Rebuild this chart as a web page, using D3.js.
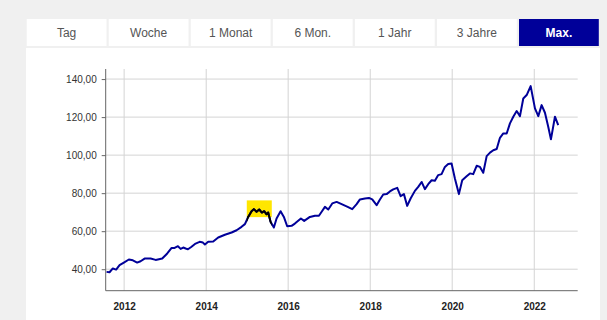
<!DOCTYPE html>
<html><head><meta charset="utf-8">
<script src="https://cdn.jsdelivr.net/npm/d3@7"></script>
<style>
html,body{margin:0;padding:0;background:#f0f0f0;}
svg{display:block;}
</style></head>
<body>
<svg id="c" width="607" height="320"></svg>
<script>
// ---- data ----
const tabs = ["Tag","Woche","1 Monat","6 Mon.","1 Jahr","3 Jahre","Max."];
const activeTab = "Max.";
const years = [
2011.571,2011.644,2011.724,2011.805,2011.888,2011.993,2012.115,2012.212,2012.317,2012.400,
2012.498,2012.644,2012.766,2012.927,2013.049,2013.156,2013.229,2013.310,2013.376,2013.439,
2013.498,2013.554,2013.634,2013.741,2013.839,2013.920,2013.968,2014.049,2014.171,2014.293,
2014.456,2014.620,2014.741,2014.863,2014.944,2015.024,2015.107,2015.163,2015.229,2015.293,
2015.359,2015.415,2015.473,2015.512,2015.571,2015.651,2015.717,2015.815,2015.895,2015.976,
2016.083,2016.163,2016.310,2016.390,2016.529,2016.651,2016.749,2016.815,2016.895,2016.976,
2017.073,2017.180,2017.302,2017.449,2017.561,2017.668,2017.749,2017.871,2017.968,2018.049,
2018.156,2018.237,2018.317,2018.400,2018.480,2018.561,2018.659,2018.741,2018.822,2018.902,
2018.985,2019.090,2019.171,2019.254,2019.334,2019.415,2019.498,2019.578,2019.659,2019.741,
2019.822,2019.902,2019.985,2020.066,2020.163,2020.244,2020.351,2020.432,2020.512,2020.595,
2020.676,2020.756,2020.839,2020.920,2021.000,2021.083,2021.163,2021.244,2021.327,2021.407,
2021.488,2021.571,2021.651,2021.732,2021.815,2021.912,2022.017,2022.098,2022.180,2022.261,
2022.341,2022.407,2022.505,2022.585];
const values = [
38.6,38.4,40.4,39.8,42.1,43.5,45.1,44.7,43.5,44.2,
45.6,45.6,44.9,45.6,48.3,51.2,51.2,52.1,50.7,51.4,
50.9,50.5,51.7,53.5,54.4,54.0,53.0,54.4,54.6,56.7,
58.1,59.3,60.5,62.3,63.7,67.5,70.5,71.6,70.2,71.4,
69.8,70.5,68.9,69.8,64.9,61.9,66.7,70.5,67.5,62.6,
62.8,64.0,66.7,65.4,67.5,68.1,68.1,70.2,72.8,71.4,
74.6,75.4,74.2,72.8,71.6,74.2,76.7,77.2,77.5,76.7,
73.7,76.7,79.3,79.5,80.9,82.0,82.8,78.4,79.5,73.3,
77.2,81.2,83.3,85.9,82.1,84.7,86.8,86.5,89.5,90.0,
93.8,95.3,95.6,87.7,79.5,86.8,88.9,90.4,90.0,94.4,
93.8,90.7,99.5,101.3,102.6,103.2,109.1,111.4,111.4,116.7,
120.2,123.2,120.5,129.8,131.6,136.3,124.6,120.5,126.3,122.3,
114.9,108.3,120.2,115.8];
const yTicks = [40,60,80,100,120,140];
const xTickYears = [2012,2014,2016,2018,2020,2022];
const highlightYears = [2014.99, 2015.60];
const highlightValues = [67.4, 76.2];
const xDomainYears = [2011.55, 2023.06];
const yDomain = [28.7, 145.3];

(function(){
function yearToDate(yv){
  const Y = Math.floor(yv), f = yv - Y;
  const a = new Date(Y,0,1).getTime(), b = new Date(Y+1,0,1).getTime();
  return new Date(a + f*(b-a));
}
const data = years.map((yv,i)=>({date:yearToDate(yv), value:values[i]}));
const locale = d3.formatLocale({decimal:",", thousands:".", grouping:[3], currency:["","€"]});
const fmt = locale.format(",.2f");

const svg = d3.select("#c");
const font = "'Liberation Sans', Arial, sans-serif";

// tabs
const tabX0 = 26.7, tabPitch = 82.05, tabW = 79.8, tabY = 19, tabH = 27;
const tg = svg.append("g");
tabs.forEach((t,i)=>{
  const act = t===activeTab;
  tg.append("rect").attr("x",tabX0+i*tabPitch).attr("y",tabY).attr("width",tabW).attr("height",tabH)
    .attr("fill",act?"#000099":"#ffffff");
  tg.append("text").attr("x",tabX0+i*tabPitch+tabW/2).attr("y",tabY+tabH/2+4.3)
    .attr("text-anchor","middle").attr("font-family",font).attr("font-size",12)
    .attr("font-weight",act?"bold":"normal")
    .attr("fill",act?"#ffffff":"#555555").text(t);
});

// panel
svg.append("rect").attr("x",26).attr("y",48).attr("width",574).attr("height",272).attr("fill","#ffffff");

// scales
const pl=105.7, pr=577.7, pt=69, pb=290.7;
const x = d3.scaleTime().domain(xDomainYears.map(yearToDate)).range([pl,pr]);
const y = d3.scaleLinear().domain(yDomain).range([pb,pt]);

// grid
const g = svg.append("g");
g.selectAll(".hg").data(yTicks).join("line")
  .attr("x1",pl).attr("x2",pr).attr("y1",d=>y(d)).attr("y2",d=>y(d))
  .attr("stroke","#d4d4d4").attr("stroke-width",1);
g.selectAll(".vg").data(xTickYears).join("line")
  .attr("x1",d=>x(new Date(d,0,1))).attr("x2",d=>x(new Date(d,0,1))).attr("y1",pt).attr("y2",pb)
  .attr("stroke","#d4d4d4").attr("stroke-width",1);

// axes
const yAxis = d3.axisLeft(y).tickValues(yTicks).tickFormat(fmt).tickSize(4).tickPadding(5);
const ya = svg.append("g").attr("transform",`translate(${pl},0)`).call(yAxis);
ya.select(".domain").attr("stroke","#666").attr("d",`M0,${pt}V${pb}`);
ya.selectAll(".tick line").attr("stroke","#666");
ya.selectAll("text").attr("font-family",font).attr("font-size",10).attr("fill","#333");

const xAxis = d3.axisBottom(x).tickValues(xTickYears.map(v=>new Date(v,0,1)))
  .tickFormat(d3.timeFormat("%Y")).tickSize(0).tickPadding(12);
const xa = svg.append("g").attr("transform",`translate(0,${pb})`).call(xAxis);
xa.select(".domain").attr("stroke","#666").attr("d",`M${pl},0H${pr}`);
xa.selectAll("text").attr("font-family",font).attr("font-size",10).attr("font-weight","bold").attr("fill","#222");

// highlight
const hx0 = x(yearToDate(highlightYears[0])), hx1 = x(yearToDate(highlightYears[1]));
const hy0 = y(highlightValues[1]), hy1 = y(highlightValues[0]);
svg.append("rect").attr("x",hx0).attr("y",hy0).attr("width",hx1-hx0).attr("height",hy1-hy0).attr("fill","#ffe600");
svg.append("clipPath").attr("id","hc").append("rect")
  .attr("x",hx0).attr("y",hy0-20).attr("width",hx1-hx0).attr("height",hy1-hy0+40);

// line
const line = d3.line().x(d=>x(d.date)).y(d=>y(d.value));
svg.append("path").datum(data).attr("d",line).attr("fill","none")
  .attr("stroke","#000099").attr("stroke-width",2).attr("stroke-linejoin","round");
svg.append("path").datum(data).attr("d",line).attr("fill","none").attr("clip-path","url(#hc)")
  .attr("stroke","#000000").attr("stroke-width",2).attr("stroke-linejoin","round");
})();
</script>
</body></html>
